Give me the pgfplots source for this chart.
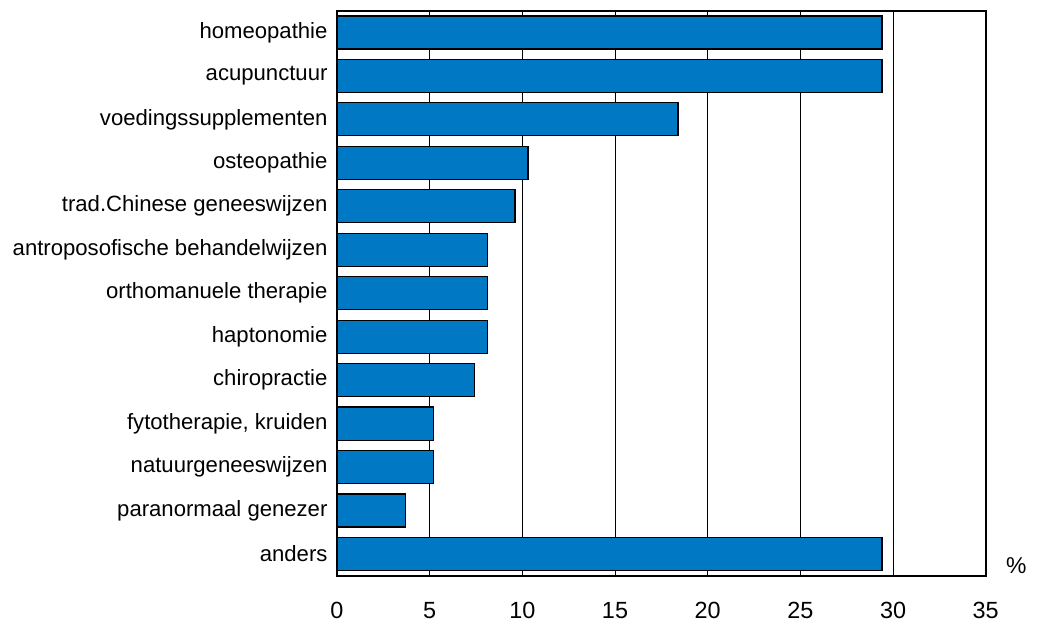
\documentclass[border=0pt]{standalone}
\usepackage{pgfplots}
\pgfplotsset{compat=1.18}
\usepackage{fontspec}
\setmainfont{Liberation Sans}
\definecolor{barblue}{RGB}{0,120,195}
\begin{document}
\begin{tikzpicture}
\begin{axis}[
  scale only axis,
  width=648.7bp, height=565bp,
  xbar, bar width=0.76,
  xmin=0, xmax=35,
  ymin=-0.5, ymax=12.5,
  y dir=reverse,
  xtick={0,5,...,35},
  ytick={0,...,12},
  yticklabels={homeopathie,acupunctuur,voedingssupplementen,osteopathie,trad.Chinese geneeswijzen,antroposofische behandelwijzen,orthomanuele therapie,haptonomie,chiropractie,{fytotherapie, kruiden},natuurgeneeswijzen,paranormaal genezer,anders},
  major tick length=0pt,
  xmajorgrids,
  grid style={black, line width=0.8bp},
  axis line style={black, line width=1.6bp},
  /pgf/number format/assume math mode=true,
  xticklabel style={font=\fontsize{23.5}{27}\selectfont, yshift=-23bp},
  yticklabel style={font=\fontsize{22.2}{26}\selectfont, xshift=-6bp},
  clip=false,
]
\addplot[fill=barblue, draw=black, line width=1.2bp] coordinates {
(29.4,0) (29.4,1) (18.4,2) (10.3,3) (9.6,4) (8.1,5) (8.1,6) (8.1,7) (7.4,8) (5.2,9) (5.2,10) (3.7,11) (29.4,12)
};
\node[font=\fontsize{23}{26}\selectfont] at (rel axis cs:1,0) [xshift=30.5bp, yshift=10bp] {\%};
\end{axis}
\pgfresetboundingbox
\path[use as bounding box] ([shift={(-337bp,-47.3bp)}]current axis.south west) rectangle ([shift={(52.3bp,10.7bp)}]current axis.north east);
\end{tikzpicture}
\end{document}
